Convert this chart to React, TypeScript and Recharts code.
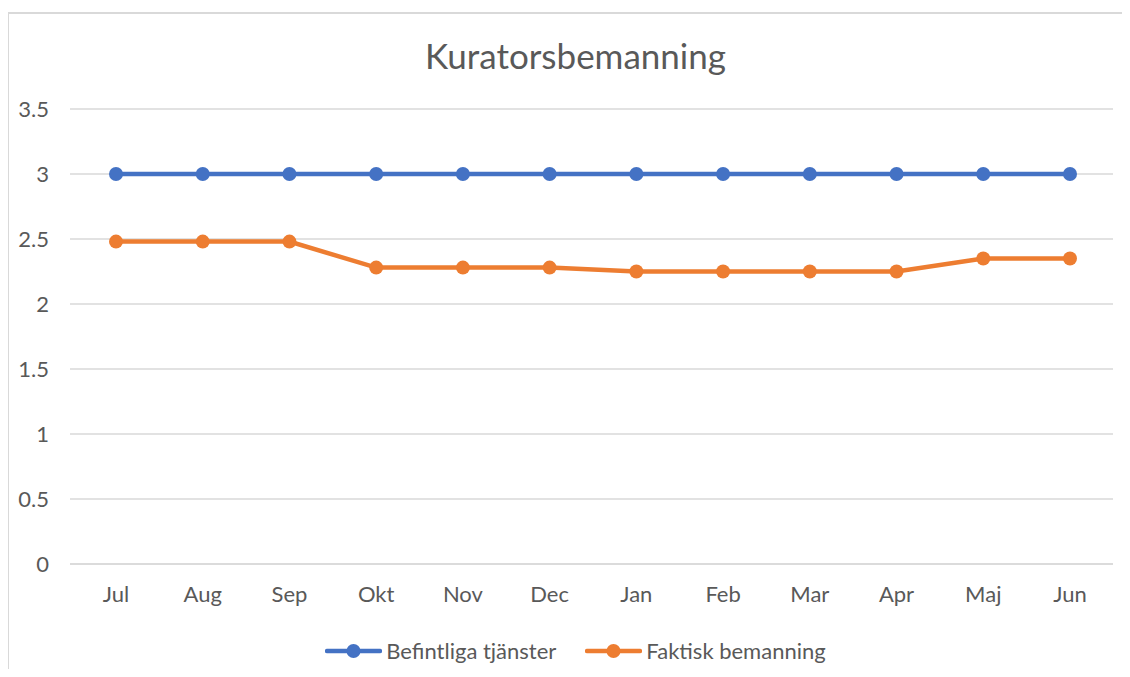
import React from 'react';
import { LineChart, Line, CartesianGrid, XAxis, YAxis } from 'recharts';

const months = ['Jul', 'Aug', 'Sep', 'Okt', 'Nov', 'Dec', 'Jan', 'Feb', 'Mar', 'Apr', 'Maj', 'Jun'];
const befintliga = [3, 3, 3, 3, 3, 3, 3, 3, 3, 3, 3, 3];
const faktisk = [2.48, 2.48, 2.48, 2.28, 2.28, 2.28, 2.25, 2.25, 2.25, 2.25, 2.35, 2.35];
const yTicks = [0, 0.5, 1, 1.5, 2, 2.5, 3, 3.5];

const series = [
  { key: 'befintliga', name: 'Befintliga tjänster', color: '#4472C4' },
  { key: 'faktisk', name: 'Faktisk bemanning', color: '#ED7D31' },
];

const data = months.map((month, i) => ({
  month,
  befintliga: befintliga[i],
  faktisk: faktisk[i],
}));

const FONT = 'Lato, "Noto Sans", sans-serif';
const TEXT = '#595959';

const formatTick = (v: number) => String(v);

export default function App() {
  return (
    <div
      style={{
        position: 'relative',
        width: 1130,
        height: 677,
        margin: -8,
        background: '#fff',
        overflow: 'hidden',
        fontFamily: FONT,
      }}
    >
      <div
        style={{
          position: 'absolute',
          left: 0,
          top: 34,
          width: 1151,
          textAlign: 'center',
          fontSize: 35,
          color: TEXT,
        }}
      >
        Kuratorsbemanning
      </div>
      <div style={{ position: 'absolute', left: 0, top: 0 }}>
        <LineChart width={1130} height={677} data={data} margin={{ top: 109, right: 17, bottom: 83, left: 8 }}>
          <CartesianGrid vertical={false} stroke="#d9d9d9" strokeWidth={1.3} />
          <XAxis
            dataKey="month"
            padding={{ left: 46, right: 43 }}
            axisLine={{ stroke: '#d9d9d9', strokeWidth: 1.3 }}
            tickLine={false}
            tickSize={0}
            tickMargin={22}
            height={30}
            interval={0}
            tick={{ fill: TEXT, fontSize: 22, fontFamily: FONT }}
          />
          <YAxis
            domain={[0, 3.5]}
            ticks={yTicks}
            width={62}
            axisLine={false}
            tickLine={false}
            tickSize={0}
            tickMargin={21}
            tickFormatter={formatTick}
            tick={{ fill: TEXT, fontSize: 22, fontFamily: FONT }}
          />
          {series.map(s => (
            <Line
              key={s.key}
              dataKey={s.key}
              name={s.name}
              stroke={s.color}
              strokeWidth={4.5}
              dot={{ r: 7, fill: s.color, stroke: s.color, strokeWidth: 0 }}
              activeDot={false}
              isAnimationActive={false}
            />
          ))}
        </LineChart>
      </div>
      <div
        style={{
          position: 'absolute',
          left: 0,
          top: 637,
          width: 1151,
          display: 'flex',
          justifyContent: 'center',
          gap: 29,
          fontSize: 22,
          color: TEXT,
        }}
      >
        {series.map(s => (
          <div key={s.key} style={{ display: 'flex', alignItems: 'center' }}>
            <svg width={57} height={24} style={{ marginRight: 4 }}>
              <line x1={2} y1={12} x2={55} y2={12} stroke={s.color} strokeWidth={4.5} strokeLinecap="round" />
              <circle cx={28.5} cy={12} r={7} fill={s.color} />
            </svg>
            <span>{s.name}</span>
          </div>
        ))}
      </div>
      <div
        style={{
          position: 'absolute',
          left: 7,
          top: 12,
          width: 1140,
          height: 700,
          border: '2px solid #d9d9d9',
          boxSizing: 'border-box',
          zIndex: 5,
          pointerEvents: 'none',
        }}
      />
    </div>
  );
}
